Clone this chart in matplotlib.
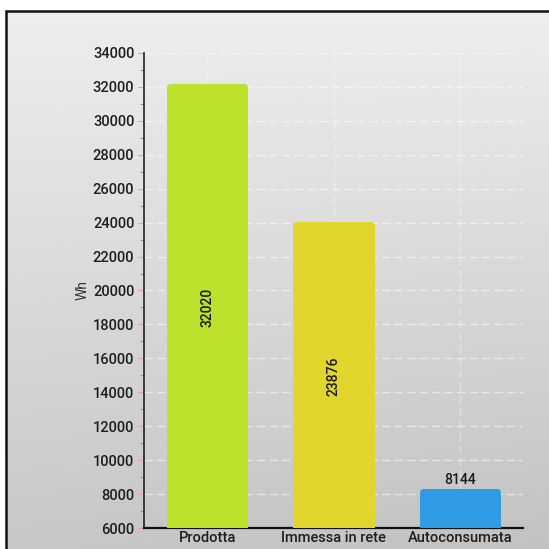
import numpy as np
import matplotlib
matplotlib.use("Agg")
import matplotlib.pyplot as plt
from matplotlib.patches import Rectangle
from matplotlib.ticker import MultipleLocator, FuncFormatter

categories = ["Prodotta", "Immessa in rete", "Autoconsumata"]
values = [32020, 23876, 8144]
bar_colors = ["#bde22c", "#e2d62c", "#2e9be4"]
y_ticks = list(range(6000, 34001, 2000))

plt.rcParams["font.family"] = ["Roboto", "DejaVu Sans"]
plt.rcParams["font.stretch"] = "condensed"
plt.rcParams["font.weight"] = "medium"

fig = plt.figure(figsize=(5.49, 5.49), dpi=100)
fig.patch.set_facecolor("white")

# grey gradient panel behind everything, framed on the left and top
bg = fig.add_axes([6 / 549, 0, 1 - 6 / 549, 1 - 11 / 549], zorder=0)
grad = np.linspace(0, 1, 256)[:, None] * np.ones((1, 64))
horiz = np.linspace(0, 1, 64)[None, :]
img = 0.93 - 0.15 * grad - 0.02 * horiz * grad
bg.imshow(img, cmap="gray", vmin=0, vmax=1, aspect="auto",
          extent=[0, 1, 0, 1], origin="upper")
bg.set_xlim(0, 1)
bg.set_ylim(0, 1)
bg.axis("off")
fig.add_artist(Rectangle((6 / 549, -0.05), 1.0, 1 - 11 / 549 + 0.05,
                         transform=fig.transFigure, fill=False,
                         edgecolor="#111111", linewidth=1.8, zorder=1))

ax = fig.add_axes([144 / 549, 1 - 528 / 549, (523 - 144) / 549, (528 - 53) / 549],
                  zorder=2)
ax.patch.set_alpha(0)

x = np.arange(len(categories))
base = y_ticks[0]
heights = [v - base for v in values]
bars = ax.bar(x, heights, bottom=base, width=0.59, color=bar_colors,
              edgecolor=bar_colors, linewidth=5, joinstyle="round", zorder=3)

ax.set_xlim(-0.5, 2.5)
ax.set_ylim(y_ticks[0], y_ticks[-1])
ax.set_yticks(y_ticks)
ax.yaxis.set_minor_locator(MultipleLocator(1000))
ax.yaxis.set_major_formatter(FuncFormatter(lambda v, p: f"{int(v)}"))
ax.set_xticks(x)
ax.set_xticklabels(categories)

ax.grid(axis="y", color="white", linestyle=(0, (6, 3)), linewidth=1.0, alpha=0.55, zorder=1)
ax.grid(axis="x", color="white", linestyle=(0, (6, 3)), linewidth=1.0, alpha=0.4, zorder=1)

for s in ["top", "right"]:
    ax.spines[s].set_visible(False)
ax.spines["left"].set_color("#222222")
ax.spines["bottom"].set_color("#111111")
ax.spines["left"].set_linewidth(1.2)
ax.spines["bottom"].set_linewidth(1.6)

ax.tick_params(axis="y", which="major", length=4, width=0.8, color="#e8a0a0",
               labelsize=10.5, labelcolor="#1e1e1e", pad=3)
ax.tick_params(axis="y", which="minor", length=3, width=0.8, color="#9090b8")
ax.tick_params(axis="x", length=0, labelsize=10.5, labelcolor="#1e1e1e", pad=2)

ax.set_ylabel("Wh", fontsize=10, color="#333333", labelpad=2)

for xi, v in zip(x, values):
    if v - base > 6000:
        ax.text(xi, (base + v) / 2, f"{v}", rotation=90, ha="center", va="center",
                fontsize=10, color="#1a1a1a", zorder=4)
    else:
        ax.text(xi, v + 250, f"{v}", ha="center", va="bottom",
                fontsize=10, color="#1a1a1a", zorder=4)

fig.savefig("out.png", dpi=100)
